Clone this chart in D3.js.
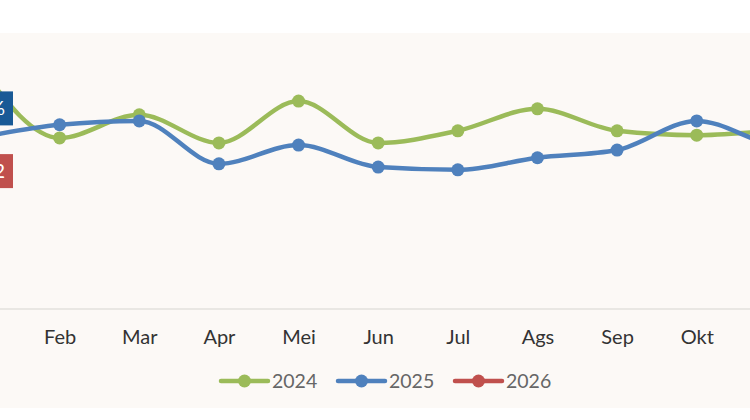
<!DOCTYPE html>
<html>
<head>
<meta charset="utf-8">
<script src="https://cdn.jsdelivr.net/npm/d3@7"></script>
<style>
  body { margin: 0; background: #fff; }
  svg { display: block; font-family: Lato, "Noto Sans", sans-serif; }
</style>
</head>
<body>
<svg id="chart" width="750" height="420"></svg>
<script>
const months = ["Jan", "Feb", "Mar", "Apr", "Mei", "Jun", "Jul", "Ags", "Sep", "Okt", "Nov", "Des"];
const values2024 = [4.4, 3.11, 3.53, 3.02, 3.78, 3.02, 3.24, 3.64, 3.24, 3.16, 3.24, 3.3];
const values2025 = [3.12, 3.35, 3.42, 2.64, 2.98, 2.58, 2.53, 2.75, 2.89, 3.42, 2.98, 2.9];
const values2026 = [1.98];
const seriesNames = ["2024", "2025", "2026"];
const seriesColors = ["#9bbb59", "#4f81bd", "#c0504d"];
const labelColors = [null, "#195a96", "#c0504d"];
const labelTexts = [null, "3,16%", "1,92"];

const width = 750;
const height = 420;
const panelTop = 33;
const panelBottom = 408;
const baseline = 309;

const svg = d3.select("#chart");

svg.append("rect")
  .attr("x", 0)
  .attr("y", panelTop)
  .attr("width", width)
  .attr("height", panelBottom - panelTop)
  .attr("fill", "#fcf9f6");

// the chart is wider than the window: Jan sits just left of it, Nov/Des right of it
const x = d3.scalePoint().domain(months).range([-20, 856]);
const y = d3.scaleLinear().domain([0, 5]).range([baseline, 34]);

svg.append("line")
  .attr("x1", 0)
  .attr("x2", width)
  .attr("y1", baseline)
  .attr("y2", baseline)
  .attr("stroke", "#e3e0dc")
  .attr("stroke-width", 1.5);

// only the months whose label is fully inside the window
const visibleMonths = months.filter((m) => x(m) > 25 && x(m) < width - 25);
const xAxis = svg.append("g")
  .attr("transform", `translate(0, ${baseline})`)
  .call(d3.axisBottom(x).tickValues(visibleMonths).tickSize(0).tickPadding(21));
xAxis.select(".domain").remove();
xAxis.selectAll("text")
  .attr("font-family", "Lato, sans-serif")
  .attr("font-size", 20)
  .attr("fill", "#333");

const allSeries = [values2024, values2025, values2026];

const line = d3.line()
  .x((d, i) => x(months[i]))
  .y((d) => y(d))
  .curve(d3.curveMonotoneX);

allSeries.forEach((vals, s) => {
  const g = svg.append("g");
  if (vals.length > 1) {
    g.append("path")
      .datum(vals)
      .attr("fill", "none")
      .attr("stroke", seriesColors[s])
      .attr("stroke-width", 4.5)
      .attr("d", line);
  }
  g.selectAll("circle")
    .data(vals)
    .enter()
    .append("circle")
    .attr("cx", (d, i) => x(months[i]))
    .attr("cy", (d) => y(d))
    .attr("r", 6.5)
    .attr("fill", seriesColors[s]);
});

// data labels on the first point
allSeries.forEach((vals, s) => {
  if (!labelColors[s]) return;
  const cx = x(months[0]);
  const cy = y(vals[0]);
  const boxW = 66;
  const boxH = 34;
  const lg = svg.append("g");
  lg.append("rect")
    .attr("x", cx - boxW / 2)
    .attr("y", cy - 12 - boxH)
    .attr("width", boxW)
    .attr("height", boxH)
    .attr("fill", labelColors[s]);
  lg.append("text")
    .attr("x", cx + boxW / 2 - 8)
    .attr("y", cy - 12 - boxH / 2)
    .attr("dy", "0.35em")
    .attr("text-anchor", "end")
    .attr("font-size", 20)
    .attr("fill", "#fff")
    .text(labelTexts[s]);
});

// legend
const legendX = [221, 338, 455];
const legend = svg.append("g").attr("transform", "translate(0, 381)");
seriesNames.forEach((name, s) => {
  const item = legend.append("g").attr("transform", `translate(${legendX[s]}, 0)`);
  item.append("line")
    .attr("x1", 0)
    .attr("x2", 47)
    .attr("y1", 0)
    .attr("y2", 0)
    .attr("stroke", seriesColors[s])
    .attr("stroke-width", 4.5)
    .attr("stroke-linecap", "round");
  item.append("circle")
    .attr("cx", 23.5)
    .attr("cy", 0)
    .attr("r", 6.5)
    .attr("fill", seriesColors[s]);
  item.append("text")
    .attr("x", 51)
    .attr("y", 0)
    .attr("dy", "0.35em")
    .attr("font-size", 19.5)
    .attr("fill", "#666")
    .text(name);
});
</script>
</body>
</html>
